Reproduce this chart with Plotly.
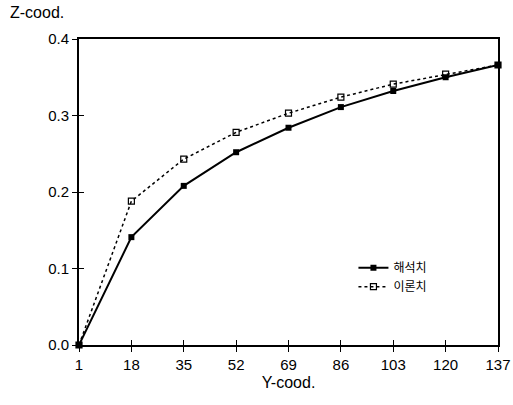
import plotly.graph_objects as go

y_coord = [1, 18, 35, 52, 69, 86, 103, 120, 137]
analysis = [0.0, 0.141, 0.208, 0.252, 0.284, 0.311, 0.332, 0.350, 0.366]
theory = [0.0, 0.188, 0.243, 0.278, 0.303, 0.324, 0.341, 0.354, 0.366]
y_ticks = [0.0, 0.1, 0.2, 0.3, 0.4]
y_labels = ["0.0", "0.1", "0.2", "0.3", "0.4"]

fig = go.Figure()
fig.add_trace(go.Scatter(x=y_coord, y=analysis, name="해석치", mode="lines+markers",
                         line=dict(color="black", width=2),
                         marker=dict(symbol="square", size=6, color="black"),
                         cliponaxis=False))
fig.add_trace(go.Scatter(x=y_coord, y=theory, name="이론치", mode="lines+markers",
                         line=dict(color="black", width=1.5, dash="dot"),
                         marker=dict(symbol="square-open", size=6, color="black",
                                     line=dict(width=1.2)),
                         cliponaxis=False))
# helper (empty) trace so the inner tick axes are drawn
fig.add_trace(go.Scatter(x=[None], y=[None], xaxis="x2", yaxis="y2", mode="lines",
                         showlegend=False, hoverinfo="skip"))

fig.update_layout(
    width=513, height=405,
    margin=dict(l=79, r=15, t=39, b=60),
    paper_bgcolor="white", plot_bgcolor="white",
    font=dict(family="Liberation Sans, Arial, sans-serif", size=15, color="black"),
    showlegend=True,
    legend=dict(x=0.655, y=0.30, xanchor="left", yanchor="top",
                bgcolor="rgba(0,0,0,0)",
                font=dict(family="Noto Sans CJK KR, sans-serif", size=12),
                tracegroupgap=0, itemwidth=30),
    xaxis2=dict(overlaying="x", anchor="y2", side="bottom", range=[1, 137],
                tickvals=y_coord, ticks="inside", ticklen=5, tickcolor="black", tickwidth=1,
                showticklabels=False, showline=False, showgrid=False, zeroline=False),
    yaxis2=dict(overlaying="y", anchor="x2", side="left", range=[0, 0.4],
                tickvals=y_ticks, ticks="inside", ticklen=5, tickcolor="black", tickwidth=1,
                showticklabels=False, showline=False, showgrid=False, zeroline=False),
)
fig.add_annotation(text="Z-cood.", xref="paper", yref="paper", x=-0.169, y=1.088,
                   xanchor="left", yanchor="middle", showarrow=False, font=dict(size=16))

fig.layout.xaxis.update(range=[1, 137], tickvals=y_coord, ticktext=[str(v) for v in y_coord],
                        showline=True, linecolor="black", linewidth=2, mirror=True, automargin=False,
                        ticks="outside", ticklen=5, tickcolor="black", showgrid=False, zeroline=False,
                        title=dict(text="Y-cood.", font=dict(size=16), standoff=5))
fig.layout.yaxis.update(range=[0, 0.4], tickvals=y_ticks, ticktext=y_labels, automargin=False,
                        showline=True, linecolor="black", linewidth=2, mirror=True,
                        ticks="outside", ticklen=5, tickcolor="black", showgrid=False, zeroline=False)

fig.write_html("out.html", config={"displayModeBar": False},
               post_script="document.body.style.margin='0';document.body.style.overflow='hidden';")
